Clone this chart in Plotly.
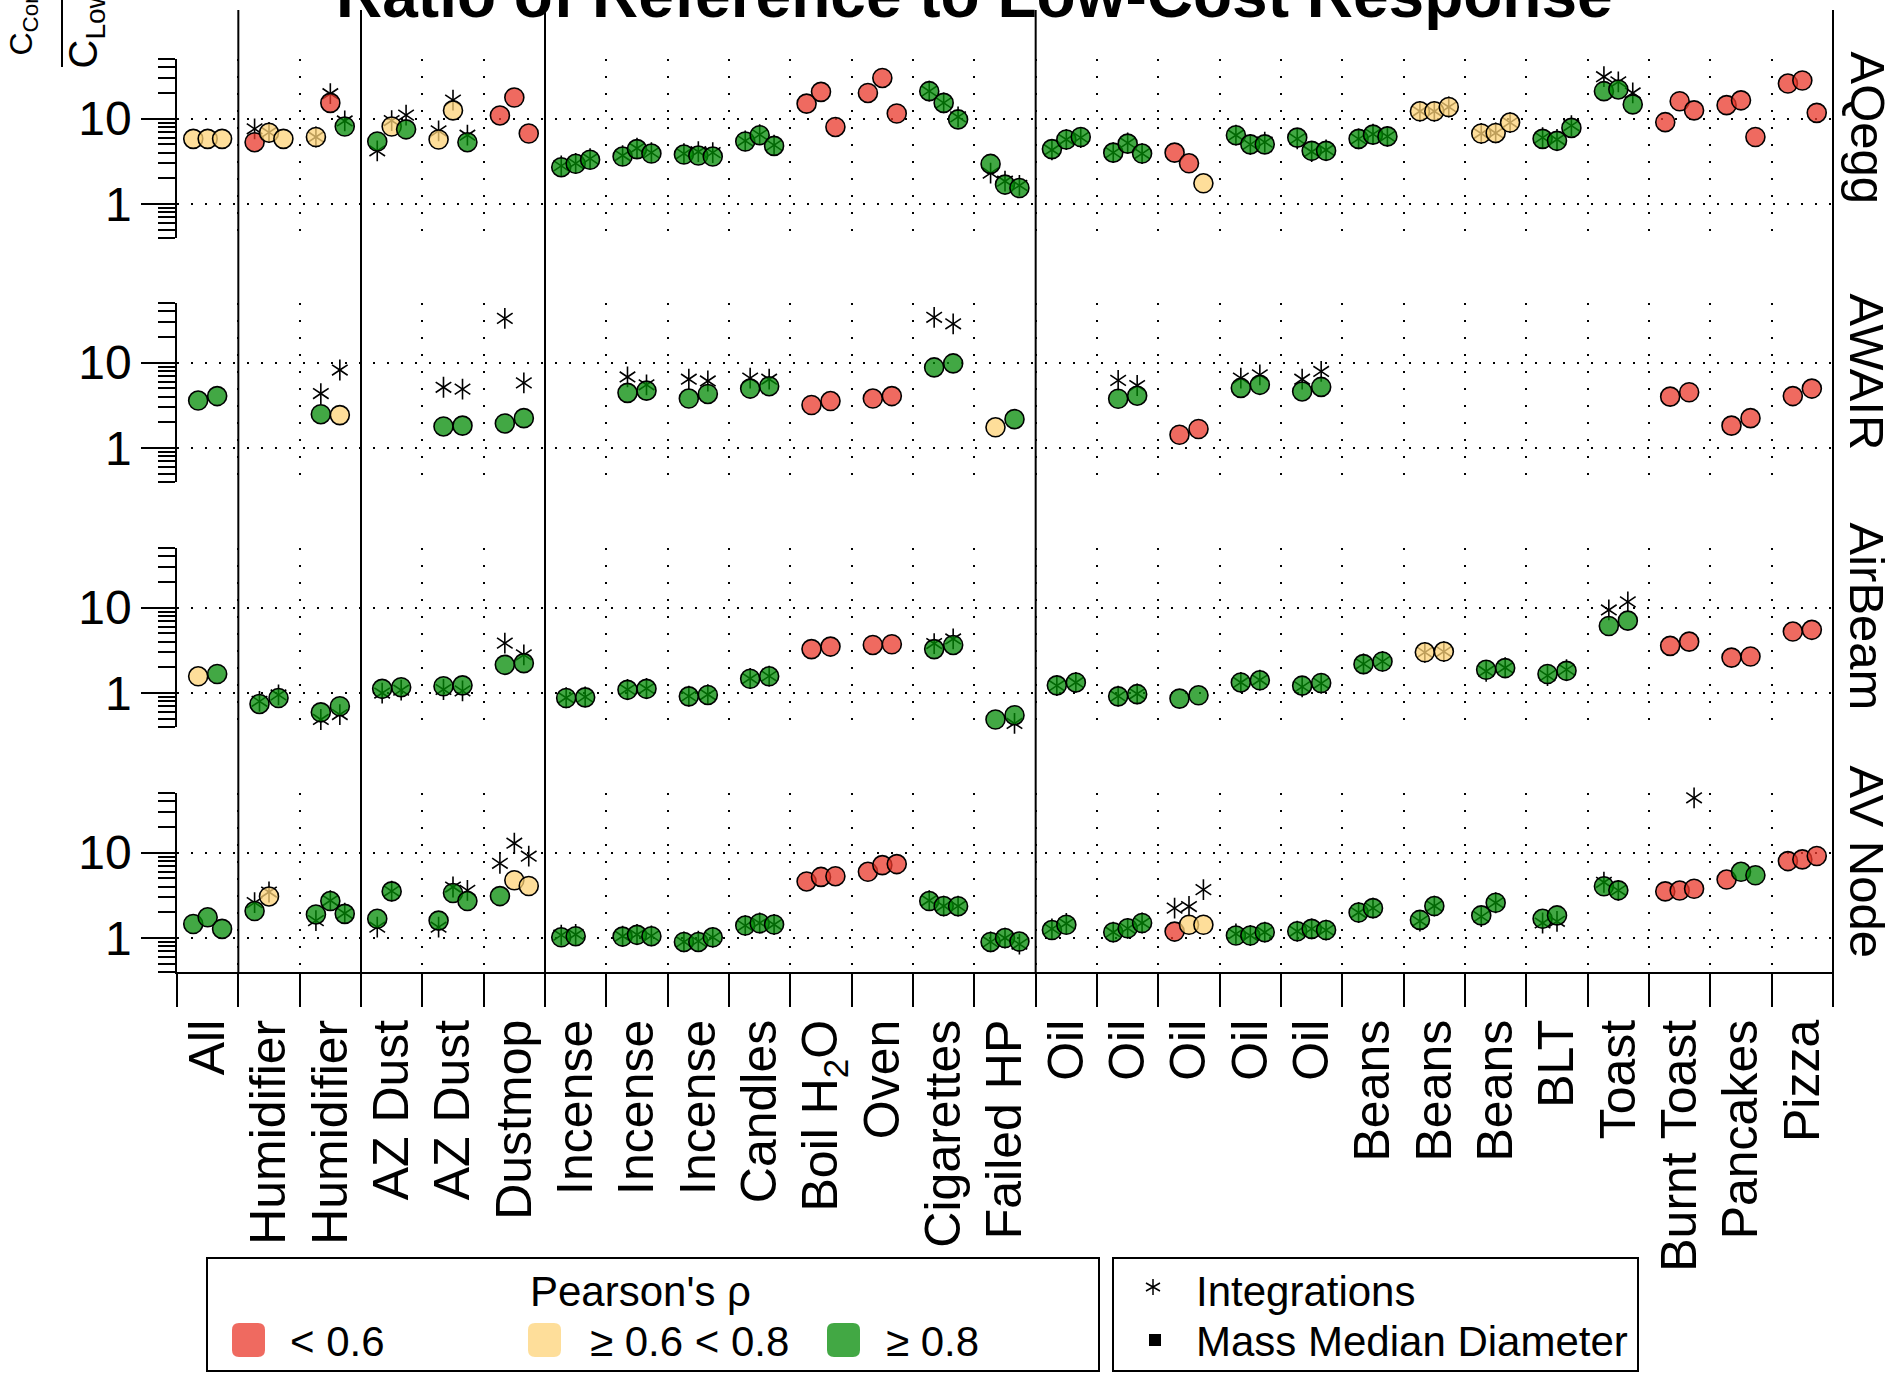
import math
import plotly.graph_objects as go

# ---------------- data ----------------
CATEGORIES = ["All", "Humidifier", "Humidifier", "AZ Dust", "AZ Dust", "Dustmop",
              "Incense", "Incense", "Incense", "Candles", "Boil H<sub>2</sub>O", "Oven",
              "Cigarettes", "Failed HP", "Oil", "Oil", "Oil", "Oil", "Oil",
              "Beans", "Beans", "Beans", "BLT", "Toast", "Burnt Toast", "Pancakes", "Pizza"]
GROUP_BREAKS = [1, 3, 6, 14]
PANELS = ["AQegg", "AWAIR", "AirBeam", "AV Node"]

Y_TICKS = [1, 10]
Y_MINOR = [0.4, 0.5, 0.6, 0.7, 0.8, 0.9, 2, 3, 4, 5, 6, 7, 8, 9, 20, 30, 40, 50]
Y_RANGE = [0.4, 50]

# ratio of reference to low-cost response (circles)
AQEGG_RATIO = [
    [5.8, 5.8, 5.8], [5.3, 6.85, 5.8], [6.1, 15.3, 8.1], [5.4, 8.1, 7.5], [5.7, 12.5, 5.3],
    [10.9, 17.7, 6.7], [2.7, 2.96, 3.3], [3.6, 4.4, 3.9], [3.8, 3.7, 3.6], [5.4, 6.4, 4.8],
    [15.0, 20.6, 8.0], [20.0, 30.0, 11.5], [21.0, 15.3, 9.8], [2.95, 1.69, 1.54],
    [4.4, 5.7, 6.1], [4.0, 5.1, 3.9], [4.0, 3.0, 1.75], [6.4, 5.0, 5.0], [6.0, 4.2, 4.2],
    [5.8, 6.5, 6.2], [12.2, 12.2, 13.7], [6.7, 6.8, 9.0], [5.8, 5.5, 7.8],
    [21.0, 22.0, 14.7], [9.1, 16.0, 12.5], [14.4, 16.4, 6.1], [25.8, 28.0, 11.7]]
AQEGG_RHO = ["YYY", "RYY", "YRG", "GYG", "YYG", "RRR", "GGG", "GGG", "GGG", "GGG", "RRR",
             "RRR", "GGG", "GGG", "GGG", "GGG", "RRY", "GGG", "GGG", "GGG", "YYY", "YYY",
             "GGG", "GGG", "RRR", "RRR", "RRR"]
AQEGG_INTEG = [
    [None, None, None], [7.6, 6.9, None], [6.1, 19.6, 9.4], [4.2, 9.5, 11.0], [7.2, 16.5, 6.4],
    [None, None, None], [2.8, 3.0, 3.4], [3.7, 4.5, 4.0], [3.9, 4.1, 4.0], [5.5, 6.5, 4.9],
    [None, None, None], [None, None, None], [21.0, 15.3, 10.5], [2.3, 1.85, 1.65],
    [4.3, 5.7, 6.0], [4.0, 5.2, 3.9], [None, None, None], [6.4, 5.0, 5.3], [5.8, 4.1, 4.3],
    [5.8, 6.6, 6.2], [12.2, 12.2, 13.7], [6.7, 6.8, 9.0], [6.0, 5.7, 8.3],
    [31.0, 27.0, 20.0], [None, None, None], [None, None, None], [None, None, None]]

AWAIR_RATIO = [
    [3.6, 4.06], [], [2.49, 2.43], [], [1.79, 1.83], [1.94, 2.24], [], [4.43, 4.7],
    [3.8, 4.3], [4.97, 5.3], [3.19, 3.55], [3.8, 4.06], [8.8, 9.8], [1.75, 2.18], [],
    [3.78, 4.1], [1.43, 1.67], [5.06, 5.5], [4.6, 5.2], [], [], [], [], [],
    [4.0, 4.5], [1.83, 2.24], [4.06, 4.97]]
AWAIR_RHO = ["GG", "", "GY", "", "GG", "GG", "", "GG", "GG", "GG", "RR", "RR", "GG", "YG", "",
             "GG", "RR", "GG", "GG", "", "", "", "", "", "RR", "RR", "RR"]
AWAIR_INTEG = [
    [None, None], [], [4.35, 8.2], [], [5.15, 4.9], [33.0, 5.8], [], [6.8, 5.5],
    [6.4, 6.1], [6.6, 6.4], [None, None], [None, None], [34.0, 28.5], [None, None], [],
    [6.2, 5.4], [None, None], [6.6, 7.2], [6.4, 7.9], [], [], [], [], [],
    [None, None], [None, None], [None, None]]

AIRBEAM_RATIO = [
    [1.57, 1.67], [0.745, 0.875], [0.594, 0.70], [1.12, 1.17], [1.2, 1.23], [2.14, 2.24],
    [0.875, 0.89], [1.09, 1.12], [0.914, 0.95], [1.47, 1.57], [3.27, 3.5], [3.66, 3.73],
    [3.27, 3.66], [0.49, 0.55], [1.23, 1.33], [0.914, 0.97], [0.86, 0.94], [1.33, 1.41],
    [1.22, 1.31], [2.18, 2.34], [3.0, 3.06], [1.87, 1.96], [1.67, 1.82], [6.1, 7.05],
    [3.57, 4.0], [2.6, 2.68], [5.25, 5.5]]
AIRBEAM_RHO = ["YG", "GG", "GG", "GG", "GG", "GG", "GG", "GG", "GG", "GG", "RR", "RR", "GG",
               "GG", "GG", "GG", "GG", "GG", "GG", "GG", "YY", "GG", "GG", "GG", "RR", "RR", "RR"]
AIRBEAM_INTEG = [
    [None, None], [0.8, 0.95], [0.49, 0.56], [1.0, 1.08], [1.1, 1.06], [3.84, 2.8],
    [0.88, 0.9], [1.1, 1.13], [0.92, 0.96], [1.48, 1.58], [None, None], [None, None],
    [3.8, 4.3], [0.39, 0.44], [1.22, 1.33], [0.92, 0.98], [None, None], [1.33, 1.42],
    [1.18, 1.3], [2.2, 2.35], [3.0, 3.06], [1.8, 1.98], [1.6, 1.88], [9.4, 11.7],
    [None, None], [None, None], [None, None]]

AVNODE_RATIO = [
    [1.46, 1.75, 1.28], [2.07, 3.07], [1.89, 2.71, 1.92], [1.68, 3.52], [1.6, 3.37, 2.71],
    [3.1, 4.75, 4.07], [1.02, 1.05], [1.04, 1.09, 1.05], [0.9, 0.9, 1.02], [1.4, 1.49, 1.44],
    [4.6, 5.2, 5.3], [5.97, 7.15, 7.35], [2.71, 2.37, 2.36], [0.9, 1.0, 0.91], [1.24, 1.43],
    [1.17, 1.3, 1.5], [1.19, 1.43, 1.43], [1.07, 1.07, 1.17], [1.2, 1.28, 1.24], [1.99, 2.24],
    [1.63, 2.37], [1.84, 2.59], [1.68, 1.84], [4.04, 3.62], [3.52, 3.6, 3.78],
    [4.84, 5.97, 5.44], [7.97, 8.34, 9.14]]
AVNODE_RHO = ["GGG", "GY", "GGG", "GG", "GGG", "GYY", "GG", "GGG", "GGG", "GGG", "RRR", "RRR",
              "GGG", "GGG", "GG", "GGG", "RYY", "GGG", "GGG", "GG", "GG", "GG", "GG", "GG",
              "RRR", "RGG", "RRR"]
AVNODE_INTEG = [
    [None, None, None], [2.6, 3.46], [1.6, 2.75, 1.95], [1.34, 3.55], [1.34, 3.96, 3.62],
    [7.5, 12.9, 9.1], [1.08, 1.1], [1.05, 1.1, 1.06], [0.9, 0.92, 1.02], [1.4, 1.5, 1.44],
    [None, None, None], [None, None, None], [2.75, 2.37, 2.36], [0.9, 1.0, 0.85],
    [1.28, 1.48], [1.17, 1.3, 1.5], [2.24, 2.34, 3.69], [1.12, 1.07, 1.17], [1.2, 1.28, 1.24],
    [1.99, 2.24], [1.58, 2.37], [1.78, 2.59], [1.5, 1.57], [4.5, 3.62], [None, None, 43.9],
    [None, None, None], [None, None, None]]

RHO_LABELS = {"R": "&lt; 0.6", "Y": "≥ 0.6 &lt; 0.8", "G": "≥ 0.8"}

PANEL_DATA = [(AQEGG_RATIO, AQEGG_RHO, AQEGG_INTEG, 3),
              (AWAIR_RATIO, AWAIR_RHO, AWAIR_INTEG, 2),
              (AIRBEAM_RATIO, AIRBEAM_RHO, AIRBEAM_INTEG, 2),
              (AVNODE_RATIO, AVNODE_RHO, AVNODE_INTEG, 3)]

# ---------------- style ----------------
FONT = "Liberation Sans, Arial, Helvetica, sans-serif"
FILL = {"R": "rgba(234,56,43,0.75)", "Y": "rgba(254,211,120,0.75)", "G": "rgba(3,139,6,0.75)"}
SWATCH = {"R": "#EF6A60", "Y": "#FEDE9A", "G": "#42A844"}

W, H = 1892, 1373
ML, MR, MT, MB = 177, 59, 59, 401
PW, PH = W - ML - MR, H - MT - MB


def px(x):
    return (x - ML) / PW


def py(y):
    return (MT + PH - y) / PH


PANEL_TOPS = [59, 303, 548, 793]
PANEL_H = 179
FACET_SHIFT = -21
SLOT_OFFSETS = {3: [-0.235, 0.0, 0.235], 2: [-0.155, 0.155]}

fig = go.Figure()
layout = dict(
    width=W, height=H, margin=dict(l=ML, r=MR, t=MT, b=MB),
    paper_bgcolor="white", plot_bgcolor="white", showlegend=False,
    font=dict(family=FONT, color="black"),
)

ncat = len(CATEGORIES)
for k, (ratio, rho, integ, nslots) in enumerate(PANEL_DATA, start=1):
    xa, ya = ("x" if k == 1 else f"x{k}"), ("y" if k == 1 else f"y{k}")
    offs = SLOT_OFFSETS[nslots]
    ax_, ay_ = [], []
    pts = {"R": ([], []), "Y": ([], []), "G": ([], [])}
    for i in range(ncat):
        for j, v in enumerate(ratio[i]):
            xv = i + 0.5 + offs[j]
            pts[rho[i][j]][0].append(xv)
            pts[rho[i][j]][1].append(v)
            iv = integ[i][j] if j < len(integ[i]) else None
            if iv is not None:
                ax_.append(xv)
                ay_.append(iv)
    for sym in ["y-up-open", "y-down-open"]:
        fig.add_trace(go.Scatter(
            x=ax_, y=ay_, mode="markers", xaxis=xa, yaxis=ya, cliponaxis=False,
            hoverinfo="skip", showlegend=False,
            marker=dict(symbol=sym, size=13, color="black", line=dict(width=1.6, color="black"))))
    for c in ["R", "Y", "G"]:
        fig.add_trace(go.Scatter(
            x=pts[c][0], y=pts[c][1], mode="markers", xaxis=xa, yaxis=ya, cliponaxis=False,
            name=RHO_LABELS[c], showlegend=False,
            marker=dict(symbol="circle", size=19, color=FILL[c], line=dict(width=1.6, color="black"))))

    bottom = (k == 4)
    top = PANEL_TOPS[k - 1]
    layout["xaxis" if k == 1 else f"xaxis{k}"] = dict(
        domain=[0, 1], anchor=ya, range=[0, ncat],
        tickmode="array", tickvals=[i + 0.5 for i in range(ncat)], ticktext=CATEGORIES,
        showticklabels=bottom, tickangle=-90, tickfont=dict(size=50, family=FONT),
        ticks="outside" if bottom else "", ticklen=26, tickcolor="rgba(0,0,0,0)",
        showgrid=False, zeroline=False,
        showline=bottom, linecolor="black", linewidth=1.5,
        minor=dict(tickmode="array", tickvals=list(range(ncat + 1)),
                   ticks="outside" if bottom else "", ticklen=33, tickwidth=1.5,
                   tickcolor="black", showgrid=True, gridcolor="black", gridwidth=1.5,
                   griddash="2px,15px"),
    )
    layout["yaxis" if k == 1 else f"yaxis{k}"] = dict(
        domain=[py(top + PANEL_H), py(top)], anchor=xa, type="log",
        range=[math.log10(Y_RANGE[0]), math.log10(Y_RANGE[1])],
        tickmode="array", tickvals=Y_TICKS, ticktext=[str(t) for t in Y_TICKS],
        tickfont=dict(size=48, family=FONT),
        ticks="outside", ticklen=34, tickwidth=1.5, tickcolor="black",
        showline=True, linecolor="black", linewidth=1.5, zeroline=False,
        showgrid=True, gridcolor="black", gridwidth=1.5, griddash="2px,12px",
        minor=dict(tickmode="array", tickvals=Y_MINOR, ticks="outside", ticklen=17,
                   tickwidth=1.5, tickcolor="black", showgrid=False),
    )

shapes = []
for b in GROUP_BREAKS:
    shapes.append(dict(type="line", xref="x4", yref="paper", x0=b, x1=b,
                       y0=py(974), y1=py(10), line=dict(color="black", width=2)))
shapes.append(dict(type="line", xref="paper", yref="paper", x0=1, x1=1,
                   y0=py(974), y1=py(10), line=dict(color="black", width=2)))
# y-axis title fraction bar
shapes.append(dict(type="line", xref="paper", yref="paper", x0=px(62), x1=px(62),
                   y0=py(67), y1=py(-20), line=dict(color="black", width=2)))

annotations = []
# title
annotations.append(dict(text="<b>Ratio of Reference to Low-Cost Response</b>",
                        xref="paper", yref="paper", x=px(974), y=py(33),
                        xanchor="center", yanchor="bottom", showarrow=False,
                        font=dict(size=64, family=FONT)))
# y-axis title (rotated fraction)
annotations.append(dict(text="C<sub>Comparison</sub>", textangle=-90,
                        xref="paper", yref="paper", x=px(1), y=py(58),
                        xanchor="left", yanchor="bottom", showarrow=False,
                        font=dict(size=32, family=FONT)))
annotations.append(dict(text="C<sub>Low-Cost</sub>", textangle=-90,
                        xref="paper", yref="paper", x=px(59), y=py(71),
                        xanchor="left", yanchor="bottom", showarrow=False,
                        font=dict(size=40, family=FONT)))
# facet labels
for k, name in enumerate(PANELS):
    top = PANEL_TOPS[k]
    annotations.append(dict(text=name, textangle=90, xref="paper", yref="paper",
                            x=px(1867), y=py(top + PANEL_H / 2 + FACET_SHIFT), xanchor="center",
                            yanchor="middle", showarrow=False, font=dict(size=49, family=FONT)))


# ---------- manual legend ----------
def rect(x0, y0, x1, y1, **kw):
    return dict(type="rect", xref="paper", yref="paper", x0=px(x0), x1=px(x1),
                y0=py(y1), y1=py(y0), **kw)


def rounded(x0, y0, x1, y1, r, color):
    X = lambda v: px(v)
    Y = lambda v: py(v)
    p = (f"M{X(x0 + r)},{Y(y0)} L{X(x1 - r)},{Y(y0)} Q{X(x1)},{Y(y0)} {X(x1)},{Y(y0 + r)} "
         f"L{X(x1)},{Y(y1 - r)} Q{X(x1)},{Y(y1)} {X(x1 - r)},{Y(y1)} "
         f"L{X(x0 + r)},{Y(y1)} Q{X(x0)},{Y(y1)} {X(x0)},{Y(y1 - r)} "
         f"L{X(x0)},{Y(y0 + r)} Q{X(x0)},{Y(y0)} {X(x0 + r)},{Y(y0)} Z")
    return dict(type="path", xref="paper", yref="paper", path=p, fillcolor=color,
                line=dict(width=0))


shapes.append(rect(207, 1258, 1099, 1371, line=dict(color="black", width=2)))
shapes.append(rect(1113, 1258, 1638, 1371, line=dict(color="black", width=2)))
annotations.append(dict(text="Pearson's ρ", xref="paper", yref="paper", x=px(640), y=py(1291),
                        xanchor="center", yanchor="middle", showarrow=False,
                        font=dict(size=42, family=FONT)))
LEG_ITEMS = [("R", 232, 288), ("Y", 528, 588), ("G", 827, 884)]
for c, sx, tx in LEG_ITEMS:
    shapes.append(rounded(sx, 1323, sx + 33, 1357, 7, SWATCH[c]))
    annotations.append(dict(text=RHO_LABELS[c], xref="paper", yref="paper", x=px(tx), y=py(1341),
                            xanchor="left", yanchor="middle", showarrow=False,
                            font=dict(size=42, family=FONT)))
# asterisk glyph
cx, cy = 1153, 1287
ast = (f"M{px(cx)},{py(cy - 8)} L{px(cx)},{py(cy + 8)} "
       f"M{px(cx - 7)},{py(cy - 4)} L{px(cx + 7)},{py(cy + 4)} "
       f"M{px(cx - 7)},{py(cy + 4)} L{px(cx + 7)},{py(cy - 4)}")
shapes.append(dict(type="path", xref="paper", yref="paper", path=ast,
                   line=dict(color="black", width=1.5)))
shapes.append(rect(1149, 1334, 1161, 1346, fillcolor="black", line=dict(width=0)))
annotations.append(dict(text="Integrations", xref="paper", yref="paper", x=px(1194), y=py(1291),
                        xanchor="left", yanchor="middle", showarrow=False,
                        font=dict(size=42, family=FONT)))
annotations.append(dict(text="Mass Median Diameter", xref="paper", yref="paper", x=px(1194),
                        y=py(1341), xanchor="left", yanchor="middle", showarrow=False,
                        font=dict(size=42, family=FONT)))

layout["shapes"] = shapes
layout["annotations"] = annotations
fig.update_layout(**layout)
fig.write_html("out.html", config={"displayModeBar": False},
               post_script="document.body.style.margin='0';document.body.style.overflow='hidden';")
